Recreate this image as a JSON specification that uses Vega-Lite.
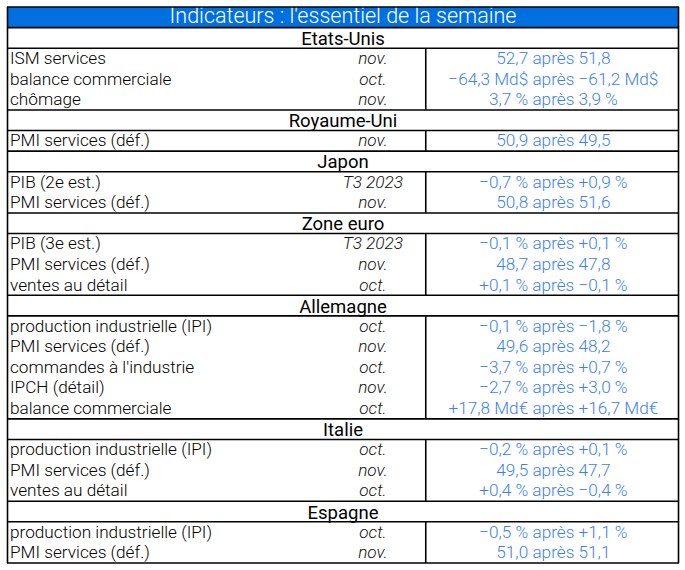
{
  "$schema": "https://vega.github.io/schema/vega-lite/v6.json",
  "width": 685,
  "height": 570,
  "autosize": {"type": "fit", "contains": "padding"},
  "padding": {"left": 6, "top": 6, "right": 5, "bottom": 6},
  "background": "white",
  "config": {"view": {"stroke": null}, "font": "Roboto"},
  "datasets": {
    "rows": [
      {"row": 0, "kind": "title", "label": "Indicateurs : l'essentiel de la semaine", "period": "", "value": ""},
      {"row": 1, "kind": "header", "label": "Etats-Unis", "period": "", "value": ""},
      {"row": 2, "kind": "data", "label": "ISM services", "period": "nov.", "value": "52,7 après 51,8"},
      {"row": 3, "kind": "data", "label": "balance commerciale", "period": "oct.", "value": "−64,3 Md$ après −61,2 Md$"},
      {"row": 4, "kind": "data", "label": "chômage", "period": "nov.", "value": "3,7 % après 3,9 %"},
      {"row": 5, "kind": "header", "label": "Royaume-Uni", "period": "", "value": ""},
      {"row": 6, "kind": "data", "label": "PMI services (déf.)", "period": "nov.", "value": "50,9 après 49,5"},
      {"row": 7, "kind": "header", "label": "Japon", "period": "", "value": ""},
      {"row": 8, "kind": "data", "label": "PIB (2e est.)", "period": "T3 2023", "value": "−0,7 % après +0,9 %"},
      {"row": 9, "kind": "data", "label": "PMI services (déf.)", "period": "nov.", "value": "50,8 après 51,6"},
      {"row": 10, "kind": "header", "label": "Zone euro", "period": "", "value": ""},
      {"row": 11, "kind": "data", "label": "PIB (3e est.)", "period": "T3 2023", "value": "−0,1 % après +0,1 %"},
      {"row": 12, "kind": "data", "label": "PMI services (déf.)", "period": "nov.", "value": "48,7 après 47,8"},
      {"row": 13, "kind": "data", "label": "ventes au détail", "period": "oct.", "value": "+0,1 % après −0,1 %"},
      {"row": 14, "kind": "header", "label": "Allemagne", "period": "", "value": ""},
      {"row": 15, "kind": "data", "label": "production industrielle (IPI)", "period": "oct.", "value": "−0,1 % après −1,8 %"},
      {"row": 16, "kind": "data", "label": "PMI services (déf.)", "period": "nov.", "value": "49,6 après 48,2"},
      {"row": 17, "kind": "data", "label": "commandes à l'industrie", "period": "oct.", "value": "−3,7 % après +0,7 %"},
      {"row": 18, "kind": "data", "label": "IPCH (détail)", "period": "nov.", "value": "−2,7 % après +3,0 %"},
      {"row": 19, "kind": "data", "label": "balance commerciale", "period": "oct.", "value": "+17,8 Md€ après +16,7 Md€"},
      {"row": 20, "kind": "header", "label": "Italie", "period": "", "value": ""},
      {"row": 21, "kind": "data", "label": "production industrielle (IPI)", "period": "oct.", "value": "−0,2 % après +0,1 %"},
      {"row": 22, "kind": "data", "label": "PMI services (déf.)", "period": "nov.", "value": "49,5 après 47,7"},
      {"row": 23, "kind": "data", "label": "ventes au détail", "period": "oct.", "value": "+0,4 % après −0,4 %"},
      {"row": 24, "kind": "header", "label": "Espagne", "period": "", "value": ""},
      {"row": 25, "kind": "data", "label": "production industrielle (IPI)", "period": "oct.", "value": "−0,5 % après +1,1 %"},
      {"row": 26, "kind": "data", "label": "PMI services (déf.)", "period": "nov.", "value": "51,0 après 51,1"}
    ],
    "hlines": [
      {"y": -0.5}, {"y": 0.5}, {"y": 1.5}, {"y": 4.5}, {"y": 5.5}, {"y": 6.5}, {"y": 7.5}, {"y": 9.5}, {"y": 10.5},
      {"y": 13.5}, {"y": 14.5}, {"y": 19.5}, {"y": 20.5}, {"y": 23.5}, {"y": 24.5}, {"y": 26.5}
    ],
    "vlines": [
      {"x": 0.5, "y1": -0.5, "y2": 26.5},
      {"x": 673.5, "y1": -0.5, "y2": 26.5},
      {"x": 420, "y1": 1.5, "y2": 4.5},
      {"x": 420, "y1": 5.5, "y2": 6.5},
      {"x": 420, "y1": 7.5, "y2": 9.5},
      {"x": 420, "y1": 10.5, "y2": 13.5},
      {"x": 420, "y1": 14.5, "y2": 19.5},
      {"x": 420, "y1": 20.5, "y2": 23.5},
      {"x": 420, "y1": 24.5, "y2": 26.5}
    ],
    "bar": [{"x1": 0.5, "x2": 673.5, "y1": -0.5, "y2": 0.5}]
  },
  "layer": [
    {
      "data": {"name": "bar"},
      "mark": {"type": "rect", "color": "#0070E0"},
      "encoding": {
        "x": {"field": "x1", "type": "quantitative", "scale": {"domain": [0, 674], "nice": false, "zero": false}, "axis": null},
        "x2": {"field": "x2"},
        "y": {"field": "y1", "type": "quantitative", "scale": {"domain": [-0.5, 26.5], "nice": false, "zero": false, "reverse": true}, "axis": null},
        "y2": {"field": "y2"}
      }
    },
    {
      "data": {"name": "rows"},
      "transform": [{"filter": "datum.kind === 'title'"}],
      "mark": {"type": "text", "align": "center", "baseline": "middle", "fontSize": 21.5, "fontWeight": 300, "color": "white", "dy": -0.5},
      "encoding": {
        "x": {"datum": 337, "type": "quantitative"},
        "y": {"field": "row", "type": "quantitative"},
        "text": {"field": "label"}
      }
    },
    {
      "data": {"name": "rows"},
      "transform": [{"filter": "datum.kind === 'header'"}],
      "mark": {"type": "text", "align": "center", "baseline": "middle", "fontSize": 18.5, "fontWeight": 400, "color": "black", "dy": 1},
      "encoding": {
        "x": {"datum": 337, "type": "quantitative"},
        "y": {"field": "row", "type": "quantitative"},
        "text": {"field": "label"}
      }
    },
    {
      "data": {"name": "rows"},
      "transform": [{"filter": "datum.kind === 'data'"}],
      "mark": {"type": "text", "align": "left", "baseline": "middle", "fontSize": 17.2, "fontWeight": 300, "color": "black", "dy": 0.5},
      "encoding": {
        "x": {"datum": 3, "type": "quantitative"},
        "y": {"field": "row", "type": "quantitative"},
        "text": {"field": "label"}
      }
    },
    {
      "data": {"name": "rows"},
      "transform": [{"filter": "datum.kind === 'data'"}],
      "mark": {"type": "text", "align": "center", "baseline": "middle", "fontSize": 17.2, "fontWeight": 300, "fontStyle": "italic", "color": "#111111", "dy": 0.5},
      "encoding": {
        "x": {"datum": 367, "type": "quantitative"},
        "y": {"field": "row", "type": "quantitative"},
        "text": {"field": "period"}
      }
    },
    {
      "data": {"name": "rows"},
      "transform": [{"filter": "datum.kind === 'data'"}],
      "mark": {"type": "text", "align": "center", "baseline": "middle", "fontSize": 17.2, "fontWeight": 300, "color": "#3D7FF0", "dy": 0.5},
      "encoding": {
        "x": {"datum": 548, "type": "quantitative"},
        "y": {"field": "row", "type": "quantitative"},
        "text": {"field": "value"}
      }
    },
    {
      "data": {"name": "hlines"},
      "mark": {"type": "rule", "color": "black", "strokeWidth": 1.6},
      "encoding": {
        "x": {"datum": 0, "type": "quantitative"},
        "x2": {"datum": 674},
        "y": {"field": "y", "type": "quantitative"}
      }
    },
    {
      "data": {"name": "vlines"},
      "mark": {"type": "rule", "color": "black", "strokeWidth": 1.6},
      "encoding": {
        "x": {"field": "x", "type": "quantitative"},
        "y": {"field": "y1", "type": "quantitative"},
        "y2": {"field": "y2"}
      }
    }
  ]
}
